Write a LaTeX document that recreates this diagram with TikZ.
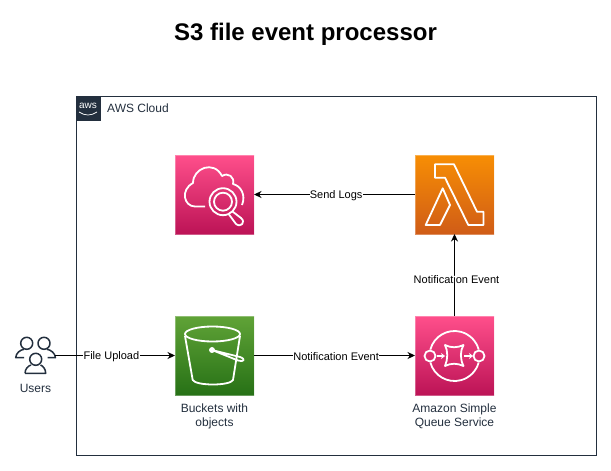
\documentclass[tikz,border=0pt]{standalone}
\usepackage{fontspec}
\setmainfont{Liberation Sans}
\usetikzlibrary{positioning,arrows.meta}
\definecolor{awsnavy}{HTML}{232F3E}
\definecolor{pinktop}{HTML}{FF4F8B}
\definecolor{pinkbot}{HTML}{BC1356}
\definecolor{orangetop}{HTML}{F78E04}
\definecolor{orangebot}{HTML}{D05C17}
\definecolor{greentop}{HTML}{60A337}
\definecolor{greenbot}{HTML}{277116}
\tikzset{
  icon/.style={minimum size=79pt, inner sep=0pt, outer sep=0pt, draw=white, draw opacity=0.3, line width=0.6pt},
  pinkicon/.style={icon, top color=pinktop, bottom color=pinkbot},
  orangeicon/.style={icon, top color=orangetop, bottom color=orangebot},
  greenicon/.style={icon, top color=greentop, bottom color=greenbot},
  glyph/.style={draw=white, line width=1.8pt, line join=round},
  caption/.style={font=\fontsize{12}{14}\selectfont, text=awsnavy, align=center},
  edgelabel/.style={font=\fontsize{11}{13}\selectfont, fill=white, inner sep=0.3pt, yshift=-0.8pt},
  arrow/.style={-{Stealth[length=7.5pt,width=7pt]}, line width=1pt},
  person/.style={draw=awsnavy, line width=1.5pt, line join=round},
}
\begin{document}
\begin{tikzpicture}[x=1pt,y=-1pt]
  \useasboundingbox (0,0) rectangle (611,471);
  \node[font=\bfseries\fontsize{24}{28}\selectfont] (title) at (305.5,34) {S3 file event processor};
  % cloud frame
  \node[draw=awsnavy, line width=1pt, minimum width=520pt, minimum height=359pt, inner sep=0pt, anchor=north west] (cloud) at (75.5,96) {};
  \node[fill=awsnavy, minimum size=25pt, inner sep=0pt, anchor=north west] (awslogo) at (cloud.north west) {};
  \node[font=\fontsize{10}{10}\selectfont, text=white, inner sep=0pt] (awstext) at (88,105.5) {aws};
  \draw[white, line width=0.7pt] (79,112) .. controls (85,116) and (91,116) .. (97,112);
  \node[caption, anchor=west, inner sep=0pt] (cloudlabel) at (107,108.5) {AWS Cloud};
  % icons
  \node[pinkicon] (watch) at (214.5,194.5) {};
  \node[orangeicon] (lambda) at (454.5,194.5) {};
  \node[greenicon] (bucket) at (214.5,355.5) {};
  \node[pinkicon] (queue) at (454.5,355.5) {};
  % cloud watch glyph
  \draw[glyph] (205,206.5) -- (195,206.5) .. controls (184,206.5) and (180,190) .. (193,183)
    .. controls (193,168) and (214,160) .. (222,176) .. controls (228,172) and (235,177) .. (233,184)
    .. controls (241,186) and (246,195) .. (242,205);
  \draw[glyph] (223,201.7) circle (13.5);
  \draw[glyph] (223,201.7) circle (9);
  \draw[glyph] (232.5,211.5) -- (241,218) .. controls (246,222) and (241,228) .. (236,224) -- (229,214.5);
  % lambda glyph
  \draw[glyph] (435,164.3) -- (454,164.3) -- (477,211.7) -- (483.5,211.7) -- (483.5,225) -- (468.3,225) -- (445,177.7) -- (435,177.7) -- cycle;
  \draw[glyph] (425.7,225) -- (442.7,188.3) -- (450,205) -- (440,225) -- cycle;
  % bucket glyph
  \draw[glyph] (185,336) -- (192.7,380) .. controls (196,386) and (230,386) .. (233,380) -- (240,336);
  \draw[glyph] (212.5,334) ellipse (27.5 and 7.5);
  \draw[glyph, fill=white] (212,350) circle (2);
  \draw[glyph] (212,350) -- (240,357) .. controls (246,359) and (244,362.5) .. (238,360.5) -- (212,350);
  % queue glyph
  \draw[glyph] (454.5,356) ++(165:25) arc[start angle=165, end angle=15, radius=25];
  \draw[glyph] (454.5,356) ++(195:25) arc[start angle=195, end angle=345, radius=25];
  \draw[glyph] (430,356) circle (5.5);
  \draw[glyph] (479,356) circle (5.5);
  \draw[glyph] (445,345) .. controls (451,348) and (457,348) .. (463.5,345) .. controls (460,351) and (460,359) .. (463.5,366)
    .. controls (457,363) and (451,363) .. (445,366) .. controls (448,359) and (448,351) .. (445,345) -- cycle;
  \draw[white, line width=1.7pt, -{Stealth[length=4pt,width=6pt]}] (436.5,356) -- (445,356);
  \draw[white, line width=1.7pt, -{Stealth[length=4pt,width=6pt]}] (464,356) -- (473,356);
  % users
  \draw[person] (26.7,343.3) circle (6);
  \draw[person] (44,343.3) circle (6);
  \draw[person] (35.7,359.3) circle (6);
  \draw[person] (24,357.7) -- (15.7,357.7) .. controls (16,353) and (20,350) .. (24,349.3);
  \draw[person] (47.5,357.7) -- (55.5,357.7) .. controls (55,353) and (51,350) .. (47,349.3);
  \draw[person] (25,373.3) .. controls (25,369) and (28,366) .. (31,365) (40.5,365) .. controls (43,366) and (45.7,369) .. (45.7,373.3) -- (25,373.3);
  \coordinate (users) at (55,355.5);
  \node[caption] (userslabel) at (35.5,388) {Users};
  % captions
  \node[caption, below=5pt of bucket] (bucketlabel) {Buckets with\\objects};
  \node[caption, below=5pt of queue] (queuelabel) {Amazon Simple\\Queue Service};
  % connectors
  \draw[arrow] (users) -- node[edgelabel, pos=0.47] {File Upload} (bucket);
  \draw[arrow] (bucket) -- node[edgelabel, pos=0.51] {Notification Event} (queue);
  \draw[arrow] (queue) -- node[edgelabel, pos=0.46, xshift=2pt] {Notification Event} (lambda);
  \draw[arrow] (lambda) -- node[edgelabel, pos=0.49] {Send Logs} (watch);
\end{tikzpicture}
\end{document}
